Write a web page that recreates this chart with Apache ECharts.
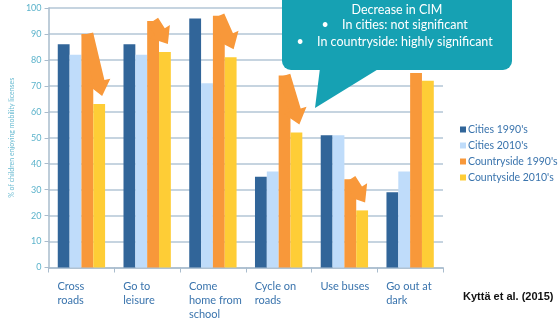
<!DOCTYPE html>
<html>
<head>
<meta charset="utf-8">
<script src="https://cdn.jsdelivr.net/npm/echarts@6/dist/echarts.min.js"></script>
<style>
  html, body { margin: 0; padding: 0; background: #fff; }
  #chart { width: 558px; height: 320px; }
</style>
</head>
<body>
<div id="chart"></div>
<script>
  // categories and values
  const categories = ['Cross\nroads', 'Go to\nleisure', 'Come\nhome from\nschool', 'Cycle on\nroads', 'Use buses', 'Go out at\ndark'];
  const cities1990 = [86, 86, 96, 35, 51, 29];
  const cities2010 = [82, 82, 71, 37, 51, 37];
  const country1990 = [90, 95, 97, 74, 34, 75];
  const country2010 = [63, 83, 81, 52, 22, 72];
  const yTicks = [0, 10, 20, 30, 40, 50, 60, 70, 80, 90, 100];
  // categories that get a "decrease" arrow
  const arrowCats = [0, 1, 2, 3, 4];

  const DARK = '#316599', LIGHT = '#bfdcfa', ORANGE = '#f8983a', YELLOW = '#fecd36';
  const TEAL = '#16a1b3';

  let arrowData = arrowCats.map(i => [i, country1990[i], country2010[i]]);

  let myChart = echarts.init(document.getElementById('chart'));

  // arrow from the top of the orange bar down to the yellow bar
  function renderArrow(params, api) {
    let cat = api.value(0);
    let top = api.coord([cat, api.value(1)]);
    let low = api.coord([cat, api.value(2)]);
    let bw = api.size([1, 0])[0] * 0.72 / 4;
    let A = [top[0] + bw / 2, top[1]];
    let T = [top[0] + bw * 1.75, low[1] - 8];
    let dx = T[0] - A[0], dy = T[1] - A[1];
    let len = Math.sqrt(dx * dx + dy * dy);
    dx /= len; dy /= len;
    let nx = -dy, ny = dx;
    let head = 15, hw = 12, w = bw / 2;
    let B = [T[0] - dx * head, T[1] - dy * head];
    return {
      type: 'polygon',
      shape: { points: [
        [A[0] + nx * w, A[1] + ny * w],
        [B[0] + nx * w, B[1] + ny * w],
        [B[0] + nx * hw, B[1] + ny * hw],
        T,
        [B[0] - nx * hw, B[1] - ny * hw],
        [B[0] - nx * w, B[1] - ny * w],
        [A[0] - nx * w, A[1] - ny * w]
      ] },
      style: { fill: ORANGE }
    };
  }

  let txt = (x, y, text, align) => ({
    type: 'text', x: x, y: y, z: 101,
    style: { text: text, fill: '#fff', font: '12.5px Lato', align: align || 'left', verticalAlign: 'middle' }
  });

  myChart.setOption({
    animation: false,
    grid: { left: 41, right: 115, top: 8, bottom: 52 },
    legend: {
      orient: 'vertical',
      left: 455,
      top: 119,
      itemWidth: 6,
      itemHeight: 6,
      itemGap: 5,
      icon: 'rect',
      data: ["Cities 1990's", "Cities 2010's", "Countryside 1990's", "Countyside 2010's"],
      textStyle: { color: '#3a74ad', fontSize: 10.5, fontFamily: 'Lato', padding: [0, 0, 0, -3] }
    },
    xAxis: {
      type: 'category',
      data: categories,
      axisLine: { lineStyle: { color: '#a9bccd', width: 1.5 } },
      axisTick: { show: true, length: 5, lineStyle: { color: '#a9bccd' } },
      axisLabel: {
        margin: 12,
        interval: 0,
        formatter: v => v.split('\n').map(s => '{a|' + s + '}').join('\n'),
        rich: {
          a: { width: 48, align: 'left', color: '#3a74ad', fontSize: 11, fontFamily: 'Lato', lineHeight: 14 }
        }
      }
    },
    yAxis: {
      type: 'value',
      min: yTicks[0],
      max: yTicks[yTicks.length - 1],
      interval: 10,
      name: '% of children enjoying mobility licenses',
      nameLocation: 'middle',
      nameGap: 28,
      nameTextStyle: { color: '#6cbcd2', fontSize: 7, fontFamily: 'Lato' },
      axisLine: { show: true, lineStyle: { color: '#a9bccd', width: 1.5 } },
      axisTick: { show: true, length: 4, lineStyle: { color: '#a9bccd' } },
      axisLabel: { color: '#5cb3cb', fontSize: 9, fontFamily: 'Lato', margin: 7 },
      splitLine: { lineStyle: { color: '#c6d4e0', width: 2 } }
    },
    series: [
      { name: "Cities 1990's", type: 'bar', data: cities1990, barGap: '0%', barCategoryGap: '28%', itemStyle: { color: DARK } },
      { name: "Cities 2010's", type: 'bar', data: cities2010, itemStyle: { color: LIGHT } },
      { name: "Countryside 1990's", type: 'bar', data: country1990, itemStyle: { color: ORANGE } },
      { name: "Countyside 2010's", type: 'bar', data: country2010, itemStyle: { color: YELLOW } },
      { name: 'arrows', type: 'custom', renderItem: renderArrow, data: arrowData, encode: { x: 0, y: 1 }, z: 3, silent: true }
    ],
    graphic: [
      { type: 'rect', z: 100, shape: { x: 282, y: -12, width: 230, height: 82, r: 9 }, style: { fill: TEAL } },
      { type: 'polygon', z: 100, shape: { points: [[320, 68], [380, 68], [315, 108]] }, style: { fill: TEAL } },
      txt(397, 10, 'Decrease in CIM', 'center'),
      txt(325, 25, '•', 'center'),
      txt(342, 25, 'In cities: not significant'),
      txt(300, 42, '•', 'center'),
      txt(317, 42, 'In countryside: highly significant'),
      { type: 'text', z: 100, left: 463, top: 291, style: { text: 'Kyttä et al. (2015)', fill: '#111', font: 'bold 11px "Liberation Sans"' } }
    ]
  });

  window.addEventListener('resize', () => {
    myChart.resize();
  });
</script>
</body>
</html>
